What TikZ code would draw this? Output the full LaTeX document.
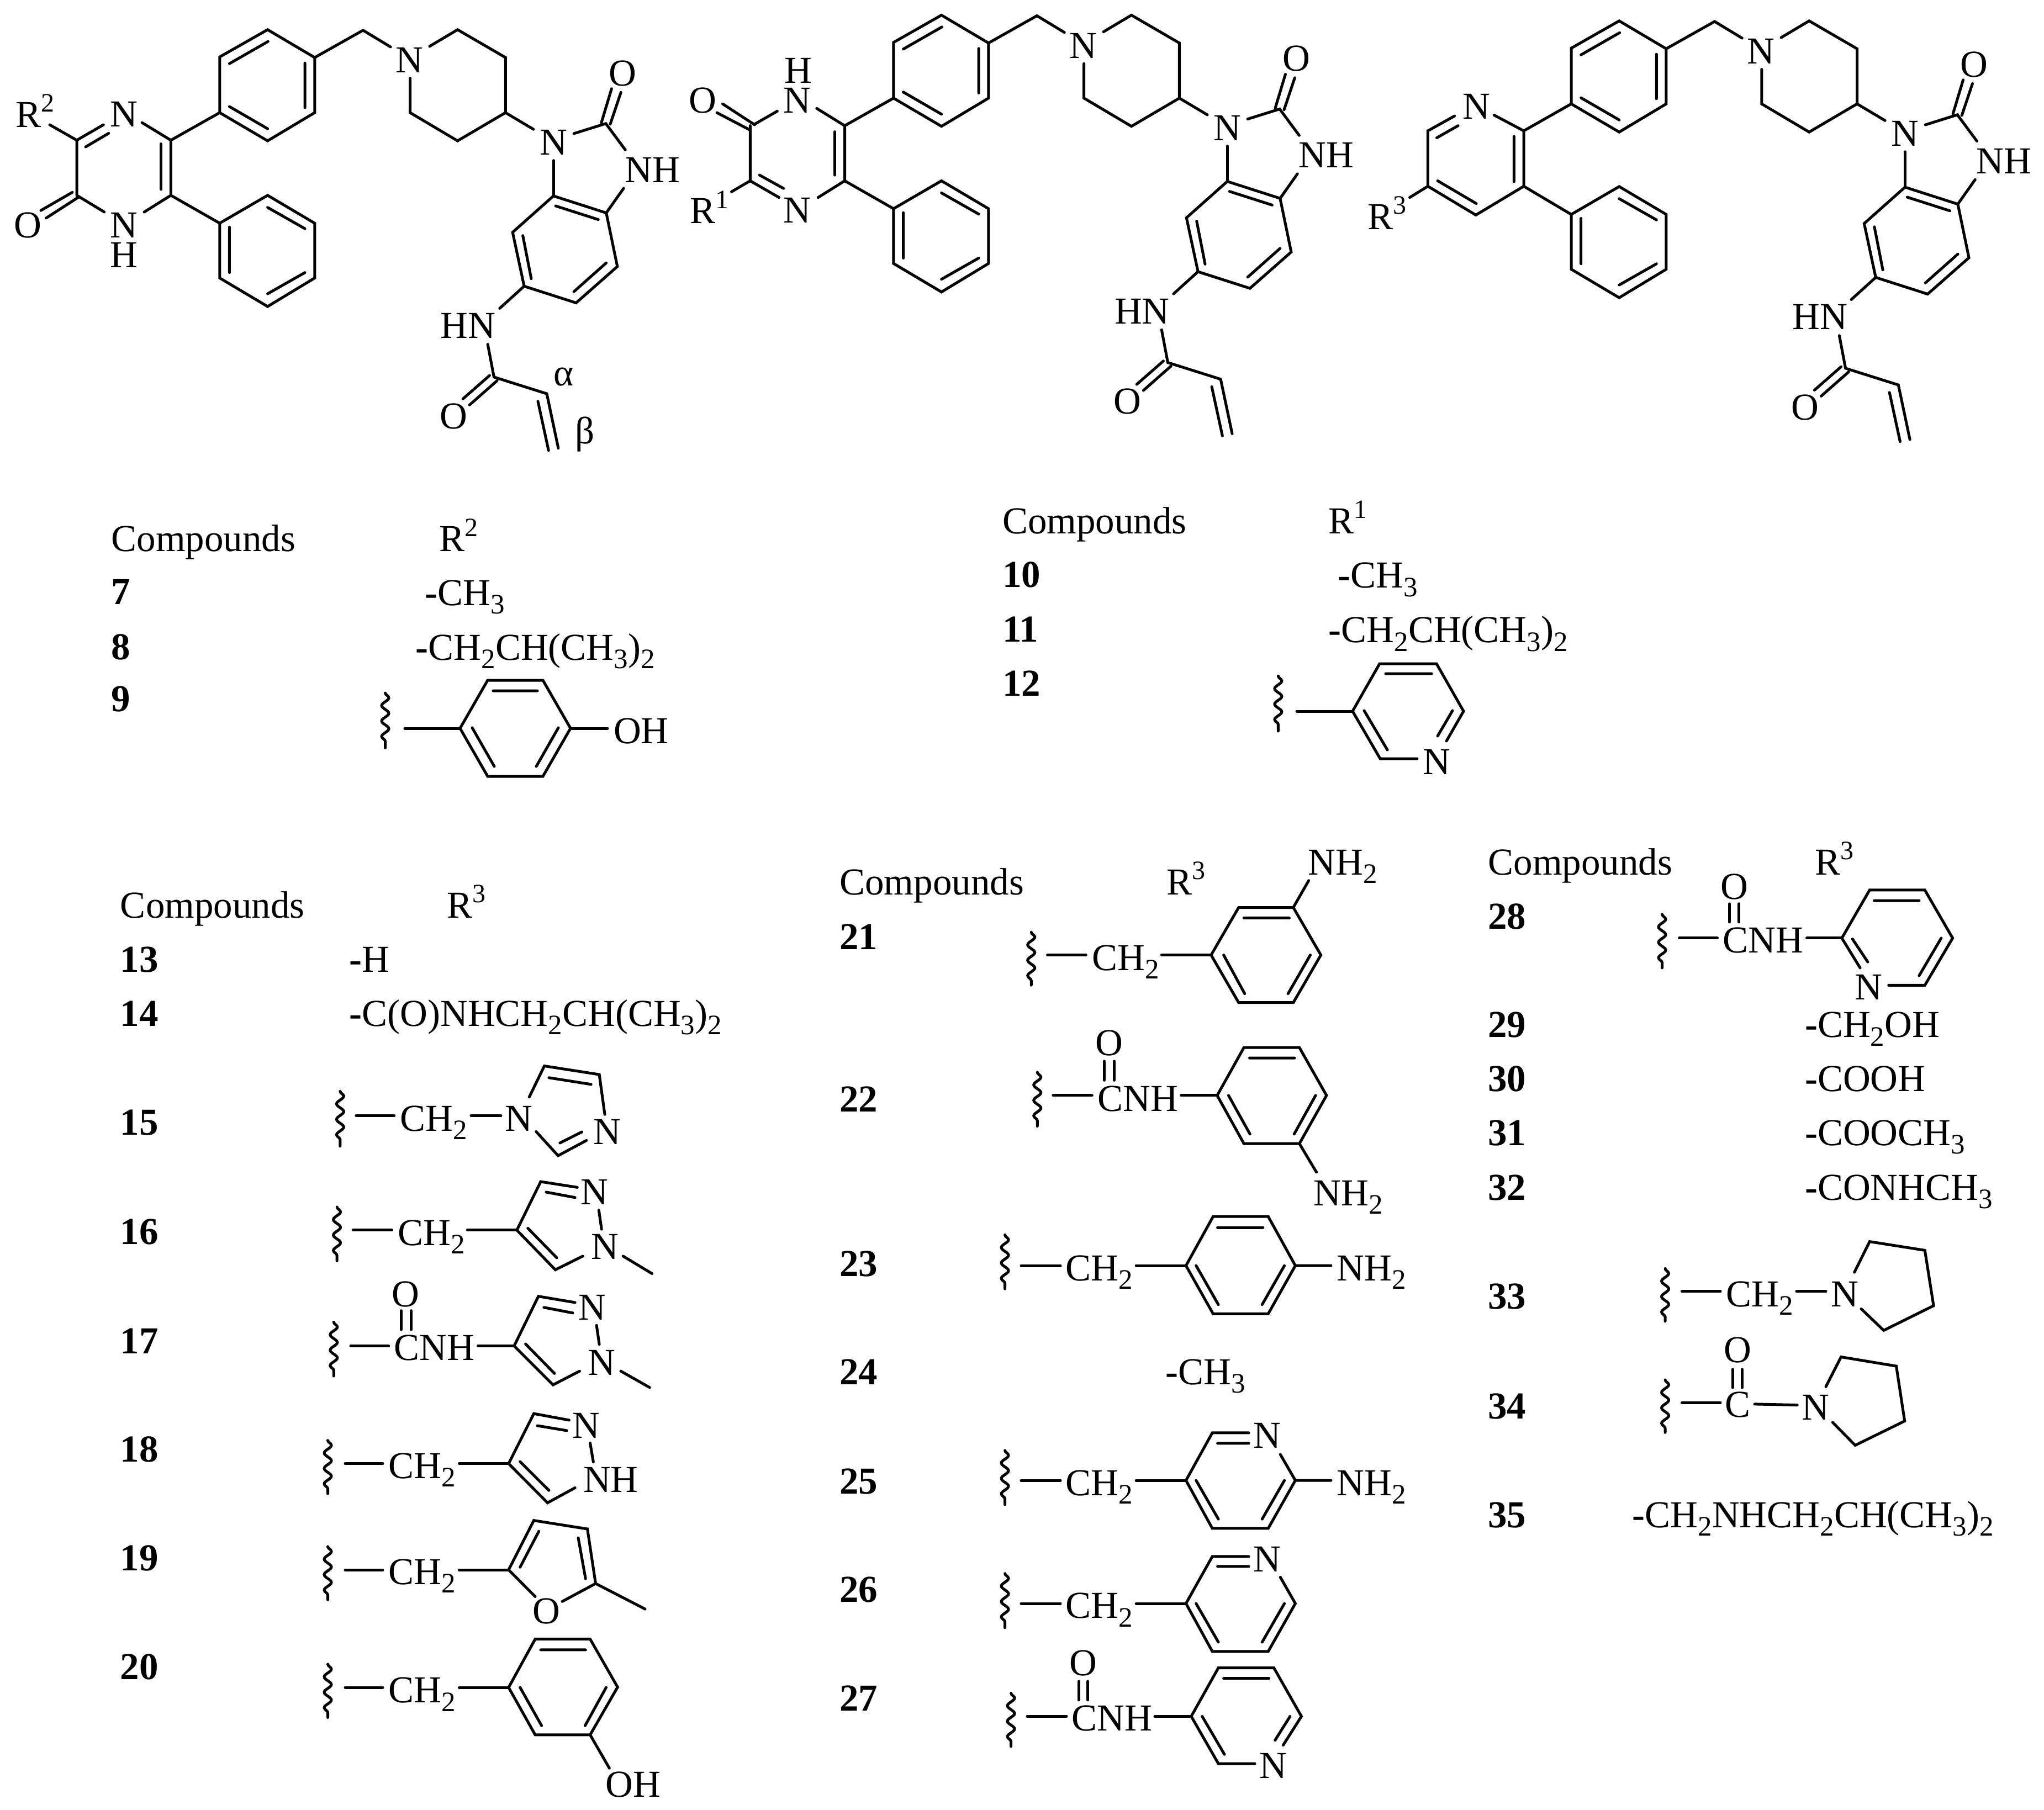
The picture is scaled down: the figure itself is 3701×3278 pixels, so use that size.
\documentclass[tikz,border=0pt]{standalone}
\usepackage{fontspec}
\setmainfont{Liberation Serif}
\usetikzlibrary{decorations.pathmorphing}
\newcounter{lbc}
\newcommand\lab[4]{\stepcounter{lbc}\node[txt,anchor=#1] (t\arabic{lbc}) at (#2,#3) {#4};}
\newcommand\sbt[1]{\raisebox{-0.22em}{\fontsize{51}{51}\selectfont #1}}
\newcommand\spt[1]{\raisebox{0.4em}{\fontsize{48}{48}\selectfont #1}}
\newcommand\hy{{\bfseries -}}
\newcommand\num[3]{\lab{base west}{#1}{#2}{\bfseries #3}}
\newcommand\sq[3]{\draw[squig] (#1,#2) -- (#1,#3);}
\newcommand\core{%
 \draw[bond] (603,98)--(709,190)--(709,372)--(603,465)--(495,372)--(495,188)--cycle;
 \draw[bond] (517,210)--(604,137) (687,208)--(687,355) (517,352)--(603,425);
 \draw[bond] (709,190)--(818,100)--(880,155);
 \draw[bond] (968,153)--(1031,98)--(1139,190)--(1139,372)--(1031,465)--(924,372)--(924,258);
 \draw[bond] (1139,372)--(1202,427);
 \draw[bond] (1293,441)--(1365,408)--(1409,495);
 \draw[bond] (1355,405)--(1378,293) (1375,410)--(1399,305);
 \draw[bond] (1405,622)--(1366,703);
 \draw[bond] (1247,530)--(1247,647);
 \draw[bond] (1247,647)--(1366,703)--(1391,880)--(1298,1000)--(1181,945)--(1155,767)--cycle;
 \draw[bond] (1252,680)--(1348,725) (1366,868)--(1293,963) (1197,920)--(1178,778);
 \draw[bond] (1181,945)--(1126,1018);
 \draw[bond] (1099,1137)--(1113,1245)--(1232,1300)--(1258,1480);
 \draw[bond] (1212,1325)--(1236,1487);
 \draw[bond] (1103,1240)--(1043,1317) (1120,1257)--(1058,1337);
 \draw[bond] (603,645)--(709,737)--(709,918)--(603,1012)--(495,918)--(495,737)--cycle;
 \draw[bond] (603,685)--(687,755) (687,900)--(603,970) (517,750)--(517,900);
 \lab{base}{922}{240}{N}
 \lab{base}{1247}{512}{N}
 \lab{base}{1403}{283}{O}
 \lab{base}{1470}{602}{NH}
 \lab{base}{1055}{1117}{HN}
 \lab{base}{1022}{1415}{O}
}
\tikzset{
 zf/.style n args={4}{shift={(#1pt,-#2pt)},x=#3pt,y=-#4pt},
 bond/.style={line width=5pt,line join=miter,line cap=round,black},
 squig/.style={line width=5pt,line cap=round,decorate,decoration={snake,segment length=28pt,amplitude=6.5pt,pre length=0pt,post length=0pt}},
 txt/.style={font=\fontsize{69}{72}\selectfont,inner sep=0pt,outer sep=0pt,text=black},
}
\begin{document}
\begin{tikzpicture}[x=1pt,y=-1pt]
\useasboundingbox (0,0) rectangle (3701,3278);
\fill[white] (0,0) rectangle (3701,3278);
% molecule 1
\begin{scope}[zf={0}{0}{.8036}{.5485}]
 \core
 \draw[bond] (385,645)--(495,737) (385,463)--(495,372);
 \draw[bond] (112,412)--(173,463)--(233,412) (193,485)--(245,440);
 \draw[bond] (320,405)--(385,463)--(385,645)--(325,700);
 \draw[bond] (363,475)--(363,625);
 \draw[bond] (235,700)--(173,645)--(173,463);
 \draw[bond] (163,635)--(92,695) (178,650)--(104,720);
 \lab{base west}{35}{420}{R\spt{2}}
 \lab{base}{279}{418}{N}
 \lab{base}{279}{785}{N}
 \lab{base}{279}{883}{H}
 \lab{base}{63}{785}{O}
 \lab{base}{1270}{1274}{α}
 \lab{base}{1318}{1464}{β}
\end{scope}
% molecule 2
\begin{scope}[zf={1220.1}{-26.3}{.8036}{.5485}]
 \core
 \draw[bond] (385,645)--(495,737) (385,463)--(495,372);
 \draw[bond] (172,463)--(172,645)--(237,700) (193,626)--(247,670);
 \draw[bond] (182,458)--(233,415) (322,406)--(385,463)--(385,645)--(325,700);
 \draw[bond] (363,483)--(363,626);
 \draw[bond] (172,645)--(130,681);
 \draw[bond] (170,476)--(97,420) (182,460)--(110,391);
 \lab{base}{280}{323}{H}
 \lab{base}{278}{421}{N}
 \lab{base}{65}{421}{O}
 \lab{base west}{37}{786}{R\spt{1}}
 \lab{base}{278}{784}{N}
\end{scope}
% molecule 3
\begin{scope}[zf={2447.2}{-15.9}{.8036}{.5485}]
 \core
 \draw[bond] (388,644)--(495,737) (388,461)--(495,372);
 \draw[bond] (232,412)--(172,461)--(172,644)--(280,739)--(388,644)--(388,461)--(321,409);
 \draw[bond] (192,484)--(240,444) (366,479)--(366,629) (281,701)--(194,626);
 \draw[bond] (172,644)--(131,681);
 \lab{base}{281}{421}{N}
 \lab{base west}{36}{786}{R\spt{3}}
\end{scope}
% tables 7-12
\begin{scope}[zf={150}{880}{1.7219}{.3827}]
 \lab{base west}{30}{310}{Compounds}
 \lab{base west}{375}{310}{R\spt{2}}
 \num{30}{560}{7}
 \lab{base west}{360}{565}{\hy CH\sbt{3}}
 \num{30}{822}{8}
 \lab{base west}{350}{825}{\hy CH\sbt{2}CH(CH\sbt{3})\sbt{2}}
 \num{30}{1068}{9}
 \sq{318}{980}{1240}
 \lab{base west}{967}{225}{Compounds}
 \lab{base west}{1310}{225}{R\spt{1}}
 \num{967}{480}{10}
 \lab{base west}{1320}{483}{\hy CH\sbt{3}}
 \num{967}{738}{11}
 \lab{base west}{1310}{742}{\hy CH\sbt{2}CH(CH\sbt{3})\sbt{2}}
 \num{967}{995}{12}
 \sq{1257}{900}{1160}
\end{scope}
% compound 9 ring
\draw[bond] (733,1319)--(833,1319) (1033,1319)--(1100,1319);
\draw[bond] (833,1319)--(883,1232)--(983,1232)--(1033,1319)--(983,1406)--(883,1406)--cycle;
\draw[bond] (893,1251)--(973,1251) (855,1318)--(895,1388) (1011,1318)--(971,1388);
\lab{base west}{1111}{1346}{OH}
% compound 12 ring
\draw[bond] (2348,1288)--(2449,1288);
\draw[bond] (2566,1374)--(2499,1374)--(2449,1288)--(2498,1202)--(2601,1202)--(2650,1288)--(2619,1342);
\draw[bond] (2509,1220)--(2592,1220) (2470,1287)--(2512,1358) (2630,1287)--(2603,1333);
\lab{base}{2601}{1402}{N}
% column 1 top
\begin{scope}[zf={150}{1500}{.829}{.574}]
 \lab{base west}{82}{283}{Compounds}
 \lab{base west}{795}{283}{R\spt{3}}
 \num{82}{453}{13}
 \lab{base west}{582}{453}{\hy H}
 \num{82}{625}{14}
 \lab{base west}{582}{625}{\hy C(O)NHCH\sbt{2}CH(CH\sbt{3})\sbt{2}}
 \num{82}{967}{15}
 \sq{562}{830}{1003}
 \draw[bond] (597,907)--(680,907) (848,907)--(913,907);
 \lab{base west}{693}{955}{CH\sbt{2}}
 \lab{base}{952}{955}{N}
 \draw[bond] (975,848)--(1008,750)--(1128,777)--(1140,903);
 \draw[bond] (990,957)--(1038,1033)--(1100,985);
 \draw[bond] (1018,787)--(1110,808) (1042,993)--(1090,958);
 \lab{base}{1145}{997}{N}
 \num{82}{1312}{16}
 \sq{555}{1195}{1365}
 \draw[bond] (590,1268)--(675,1268) (840,1268)--(948,1268);
 \lab{base west}{688}{1316}{CH\sbt{2}}
 \draw[bond] (1080,1133)--(1000,1115)--(948,1268)--(1032,1393)--(1092,1350);
 \draw[bond] (1012,1148)--(1075,1165) (1127,1205)--(1133,1265) (972,1262)--(1035,1355) (1180,1350)--(1243,1405);
 \lab{base}{1118}{1187}{N}
 \lab{base}{1140}{1360}{N}
 \lab{base}{705}{1510}{O}
\end{scope}
\begin{scope}[zf={150}{2350}{.829}{.5918}]
 \num{82}{172}{17}
 \sq{548}{75}{240}
 \draw[bond] (585,148)--(668,148) (863,148)--(942,148);
 \draw[bond] (695,40)--(695,98) (717,40)--(717,98);
 \lab{base west}{680}{192}{CNH}
 \draw[bond] (1075,15)--(995,-4)--(942,148)--(1027,267)--(1085,225);
 \draw[bond] (1007,30)--(1070,47) (1122,85)--(1128,143) (967,142)--(1030,232) (1175,225)--(1238,275);
 \lab{base}{1113}{68}{N}
 \lab{base}{1133}{237}{N}
 \num{82}{503}{18}
 \sq{535}{437}{600}
 \draw[bond] (573,508)--(655,508) (822,508)--(930,508);
 \lab{base west}{668}{553}{CH\sbt{2}}
 \draw[bond] (1062,375)--(985,355)--(930,508)--(1015,628)--(1075,582);
 \draw[bond] (993,392)--(1057,407) (1108,445)--(1115,503) (955,502)--(1018,590);
 \lab{base}{1100}{430}{N}
 \lab{base west}{1093}{595}{NH}
 \num{82}{835}{19}
 \sq{535}{762}{925}
 \draw[bond] (573,833)--(655,833) (822,833)--(930,833);
 \lab{base west}{668}{878}{CH\sbt{2}}
 \draw[bond] (988,915)--(930,833)--(985,682)--(1102,708)--(1120,875)--(1047,930);
 \draw[bond] (955,825)--(996,715) (1082,735)--(1098,860) (1120,875)--(1228,953);
 \lab{base}{1013}{997}{O}
 \num{82}{1168}{20}
 \sq{535}{1122}{1285}
 \draw[bond] (573,1193)--(655,1193) (822,1193)--(930,1193);
 \lab{base west}{668}{1240}{CH\sbt{2}}
 \draw[bond] (930,1193)--(988,1045)--(1108,1045)--(1168,1192)--(1108,1338)--(988,1338)--cycle;
 \draw[bond] (1000,1078)--(1098,1078) (955,1193)--(1002,1310) (1143,1193)--(1097,1310) (1108,1338)--(1150,1440);
 \lab{base west}{1142}{1528}{OH}
\end{scope}
% column 2
\begin{scope}[zf={1480}{1500}{.7334}{.574}]
 \lab{base west}{55}{210}{Compounds}
 \lab{base west}{862}{210}{R\spt{3}}
 \num{55}{383}{21}
 \sq{528}{328}{495}
 \draw[bond] (568,400)--(663,400) (850,400)--(972,400);
 \lab{base west}{678}{448}{CH\sbt{2}}
 \draw[bond] (972,400)--(1040,250)--(1175,250)--(1243,400)--(1175,550)--(1040,550)--cycle;
 \draw[bond] (1053,283)--(1165,283) (1003,400)--(1055,522) (1217,400)--(1162,522) (1175,250)--(1213,165);
 \lab{base west}{1212}{147}{NH\sbt{2}}
 \num{55}{895}{22}
 \sq{543}{770}{940}
 \draw[bond] (582,843)--(678,843) (898,843)--(987,843);
 \draw[bond] (708,735)--(708,795) (733,735)--(733,795);
 \lab{base}{720}{717}{O}
 \lab{base west}{692}{892}{CNH}
 \draw[bond] (987,843)--(1053,692)--(1190,692)--(1257,843)--(1190,995)--(1053,995)--cycle;
 \draw[bond] (1067,725)--(1178,725) (1015,843)--(1068,965) (1230,843)--(1177,965) (1190,995)--(1232,1085);
 \lab{base west}{1225}{1190}{NH\sbt{2}}
 \num{55}{1413}{23}
 \sq{463}{1283}{1453}
 \draw[bond] (503,1380)--(600,1380) (787,1380)--(910,1380);
 \lab{base west}{613}{1427}{CH\sbt{2}}
 \draw[bond] (910,1380)--(977,1225)--(1113,1225)--(1180,1380)--(1113,1532)--(977,1532)--cycle;
 \draw[bond] (988,1260)--(1100,1260) (935,1380)--(990,1503) (1153,1380)--(1098,1503) (1180,1380)--(1268,1380);
 \lab{base west}{1283}{1427}{NH\sbt{2}}
\end{scope}
\begin{scope}[zf={1480}{2400}{.7334}{.56}]
 \num{55}{192}{24}
 \lab{base west}{860}{192}{\hy CH\sbt{3}}
 \num{55}{545}{25}
 \sq{463}{405}{580}
 \draw[bond] (503,502)--(600,502) (787,502)--(910,502);
 \lab{base west}{613}{550}{CH\sbt{2}}
 \draw[bond] (1065,348)--(975,348)--(910,502)--(975,657)--(1113,657)--(1180,502)--(1143,418);
 \draw[bond] (988,382)--(1065,382) (935,502)--(990,627) (1153,502)--(1098,627) (1180,502)--(1268,502);
 \lab{base}{1110}{397}{N}
 \lab{base west}{1283}{550}{NH\sbt{2}}
 \num{55}{895}{26}
 \sq{463}{803}{978}
 \draw[bond] (503,900)--(600,900) (787,900)--(910,900);
 \lab{base west}{613}{948}{CH\sbt{2}}
 \draw[bond] (1065,748)--(975,748)--(910,900)--(975,1055)--(1113,1055)--(1180,900)--(1143,815);
 \draw[bond] (988,780)--(1065,780) (935,900)--(990,1025) (1153,900)--(1098,1025);
 \lab{base}{1110}{797}{N}
 \num{55}{1247}{27}
 \sq{478}{1190}{1362}
 \draw[bond] (518,1265)--(615,1265) (833,1265)--(923,1265);
 \draw[bond] (645,1152)--(645,1212) (668,1152)--(668,1212);
 \lab{base}{656}{1133}{O}
 \lab{base west}{628}{1312}{CNH}
 \draw[bond] (1080,1418)--(990,1418)--(923,1265)--(990,1108)--(1127,1108)--(1195,1265)--(1150,1358);
 \draw[bond] (1003,1142)--(1115,1142) (1167,1265)--(1130,1342) (950,1265)--(1005,1388);
 \lab{base}{1125}{1465}{N}
\end{scope}
% column 3
\begin{scope}[zf={2620}{1500}{.6894}{.829}]
 \lab{base west}{108}{102}{Compounds}
 \lab{base west}{967}{102}{R\spt{3}}
 \num{108}{220}{28}
 \sq{565}{188}{305}
 \draw[bond] (610,240)--(710,240) (945,240)--(1037,240);
 \draw[bond] (742,165)--(742,205) (767,165)--(767,205);
 \lab{base}{755}{155}{O}
 \lab{base west}{725}{272}{CNH}
 \draw[bond] (1085,305)--(1037,240)--(1110,135)--(1255,135)--(1328,240)--(1255,343)--(1160,343);
 \draw[bond] (1122,158)--(1240,158) (1298,240)--(1240,322) (1065,242)--(1105,292);
 \lab{base}{1108}{375}{N}
 \num{108}{457}{29}
 \lab{base west}{940}{457}{\hy CH\sbt{2}OH}
 \num{108}{575}{30}
 \lab{base west}{940}{575}{\hy COOH}
 \num{108}{693}{31}
 \lab{base west}{940}{693}{\hy COOCH\sbt{3}}
 \num{108}{812}{32}
 \lab{base west}{940}{812}{\hy CONHCH\sbt{3}}
 \num{108}{1050}{33}
 \sq{573}{962}{1077}
 \draw[bond] (617,1012)--(718,1012) (918,1012)--(995,1012);
 \lab{base west}{733}{1045}{CH\sbt{2}}
 \lab{base}{1045}{1045}{N}
 \draw[bond] (1070,970)--(1110,903)--(1255,922)--(1278,1043)--(1147,1097)--(1088,1050);
 \num{108}{1290}{34}
 \sq{573}{1205}{1320}
 \draw[bond] (617,1255)--(718,1255) (808,1258)--(920,1260);
 \draw[bond] (750,1182)--(750,1222) (775,1182)--(775,1222);
 \lab{base}{763}{1167}{O}
 \lab{base}{763}{1287}{C}
 \lab{base}{968}{1292}{N}
 \draw[bond] (995,1220)--(1035,1155)--(1180,1175)--(1202,1295)--(1072,1348)--(1013,1298);
 \num{108}{1528}{35}
 \lab{base west}{487}{1528}{\hy CH\sbt{2}NHCH\sbt{2}CH(CH\sbt{3})\sbt{2}}
\end{scope}
\end{tikzpicture}
\end{document}
